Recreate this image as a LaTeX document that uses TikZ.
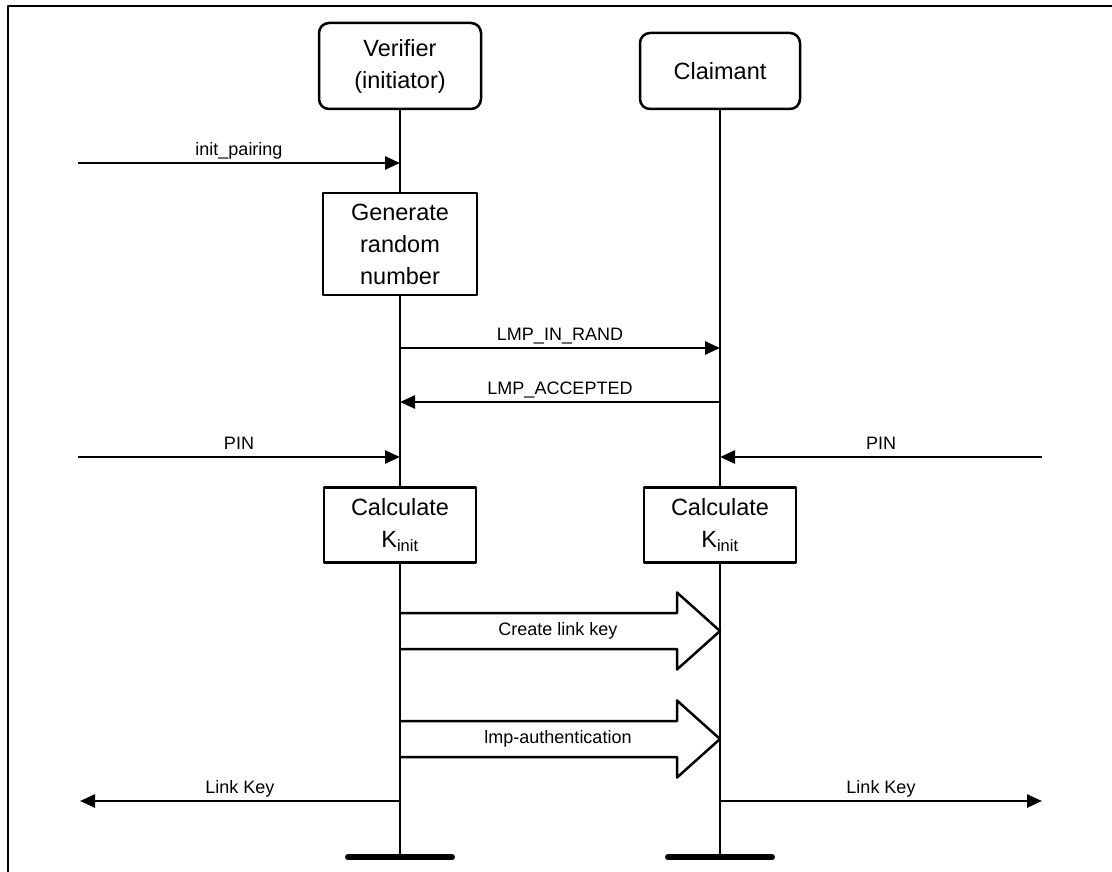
\documentclass[tikz,border=0pt]{standalone}
\usepackage{fontspec}
\setmainfont{Liberation Sans}
\usetikzlibrary{arrows.meta}

\begin{document}
\begin{tikzpicture}[x=1pt,y=-1pt,>={Triangle[length=15pt,width=13pt]}, line width=2.5pt, line join=round]
	\def\xv{400} \def\xc{720} % lifelines
	\def\yend{857}
	\tikzset{
		actor/.style={draw,rounded corners=10pt,fill=white,align=center,font=\fontsize{23.5}{32}\selectfont},
		task/.style={draw,fill=white,align=center,font=\fontsize{23.5}{32}\selectfont},
		msg/.style={font=\fontsize{18}{22}\selectfont},
		lbl/.style={msg,midway,above,inner sep=0pt,yshift=6pt,text depth=0pt}
	}
	\useasboundingbox (0,0) rectangle (1112,872);
	\draw[line width=2pt] (8,872) -- (8,6) -- (1112,6);

	% participants and local steps
	\node[actor,minimum width=162pt,minimum height=86pt] (ver) at (\xv,66) {Verifier\\(initiator)};
	\node[actor,minimum width=160pt,minimum height=76pt] (cla) at (\xc,71) {Claimant};
	\node[task,minimum width=154pt,minimum height=102pt] (gen) at (\xv,244) {Generate\\random\\number};
	\node[task,minimum width=152pt,minimum height=75pt] (kv) at (\xv,525) {Calculate\\K\textsubscript{init}};
	\node[task,minimum width=152pt,minimum height=75pt] (kc) at (\xc,525) {Calculate\\K\textsubscript{init}};
	\coordinate (vend) at (\xv,\yend);
	\coordinate (cend) at (\xc,\yend);

	% lifelines
	\draw (ver.south) -- (gen.north) (gen.south) -- (kv.north) (kv.south) -- (vend);
	\draw (cla.south) -- (kc.north) (kc.south) -- (cend);
	\draw[line width=6pt,line cap=round] ([xshift=-52pt]vend) -- ([xshift=52pt]vend);
	\draw[line width=6pt,line cap=round] ([xshift=-52pt]cend) -- ([xshift=52pt]cend);

	% messages
	\coordinate (ip) at (78,163);
	\draw[->] (ip) -- (ip -| ver.south) node[lbl]{init\_pairing};
	\coordinate (rq) at (\xv,348);
	\draw[->] (rq) -- (rq -| cla.south) node[lbl]{LMP\_IN\_RAND};
	\coordinate (acc) at (\xc,402);
	\draw[->] (acc) -- (acc -| ver.south) node[lbl]{LMP\_ACCEPTED};
	\coordinate (pinl) at (78,457);
	\coordinate (pinr) at (1042,457);
	\draw[->] (pinl) -- (pinl -| ver.south) node[lbl]{PIN};
	\draw[->] (pinr) -- (pinr -| cla.south) node[lbl]{PIN};
	\coordinate (lkl) at (80,801);
	\coordinate (lkr) at (1042,801);
	\draw[->] (lkl -| ver.south) -- (lkl) node[lbl]{Link Key};
	\draw[->] (lkr -| cla.south) -- (lkr) node[lbl]{Link Key};

	% block arrows
	\foreach \yc/\txt in {631/Create link key, 739/lmp-authentication}{
		\draw (\xv,\yc-18) -- (\xc-43,\yc-18) -- (\xc-43,\yc-38.5) -- (\xc,\yc)
			-- (\xc-43,\yc+38.5) -- (\xc-43,\yc+18) -- (\xv,\yc+18);
		\node[msg] at (558,\yc) {\txt};
	}
\end{tikzpicture}
\end{document}
